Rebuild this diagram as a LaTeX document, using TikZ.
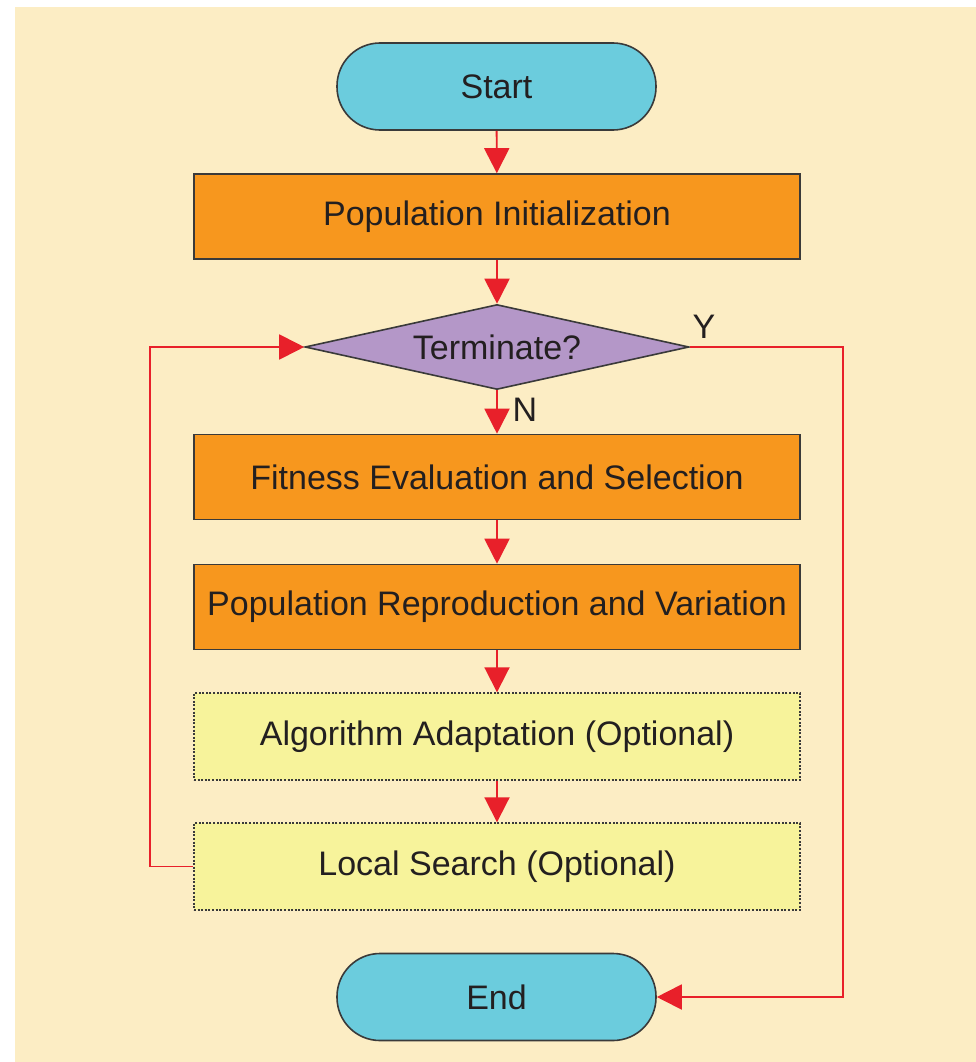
\documentclass[tikz,border=0pt]{standalone}
\usepackage{fontspec}
\setmainfont{Liberation Sans}
\usetikzlibrary{shapes.geometric,arrows.meta}
\definecolor{bgc}{HTML}{FCEDC4}
\definecolor{termc}{HTML}{6BCCDD}
\definecolor{orangec}{HTML}{F7971E}
\definecolor{purplec}{HTML}{B497C8}
\definecolor{yellowc}{HTML}{F7F39B}
\definecolor{edgec}{HTML}{3A3A3A}
\definecolor{redc}{HTML}{E8202A}
\definecolor{txtc}{HTML}{231F20}
\tikzset{
  base/.style={draw=edgec, line width=1.6pt, text=txtc, font=\fontsize{34}{40}\selectfont, inner sep=0pt},
  term/.style={base, fill=termc, rectangle, rounded corners=43pt, minimum width=319pt, minimum height=87pt},
  procbox/.style={base, fill=orangec, rectangle, minimum width=606pt, minimum height=85pt},
  optbox/.style={base, fill=yellowc, rectangle, dash pattern=on 2pt off 1.6pt, line width=1.4pt, minimum width=606pt, minimum height=87pt},
  decision/.style={base, fill=purplec, diamond, aspect=4.52, minimum width=384pt, minimum height=85pt},
  flow/.style={draw=redc, line width=1.9pt, -{Triangle[length=25pt,width=25pt]}},
  lbl/.style={text=txtc, font=\fontsize{34}{40}\selectfont, inner sep=0pt}
}
\begin{document}
\begin{tikzpicture}[x=1pt,y=-1pt]
\fill[white] (0,0) rectangle (976,1062);
\fill[bgc] (15,7) rectangle (976,1062);
\useasboundingbox (0,0) rectangle (976,1062);
\node[term] (start) at (496.5,86.5) {Start};
\node[procbox] (init) at (497,216.5) {Population Initialization};
\node[decision] (dec) at (497,347) {Terminate?};
\node[procbox] (fit) at (497,477) {Fitness Evaluation and Selection};
\node[procbox] (rep) at (497,607) {Population Reproduction and Variation};
\node[optbox] (alg) at (497,736.5) {Algorithm Adaptation (Optional)};
\node[optbox] (loc) at (497,866.5) {Local Search (Optional)};
\node[term] (end) at (496.5,997) {End};
\node[lbl] (ylab) at (704,327) {Y};
\node[lbl] (nlab) at (525,410) {N};
\coordinate (rc) at (843,347);
\coordinate (lc) at (150,866.5);
\draw[flow] (start) -- (init);
\draw[flow] (init) -- (dec);
\draw[flow] (dec) -- (fit);
\draw[flow] (fit) -- (rep);
\draw[flow] (rep) -- (alg);
\draw[flow] (alg) -- (loc);
\draw[flow] (dec.east) -- (rc) |- (end.east);
\draw[flow] (loc.west) -- (lc) |- (dec.west);
\end{tikzpicture}
\end{document}
